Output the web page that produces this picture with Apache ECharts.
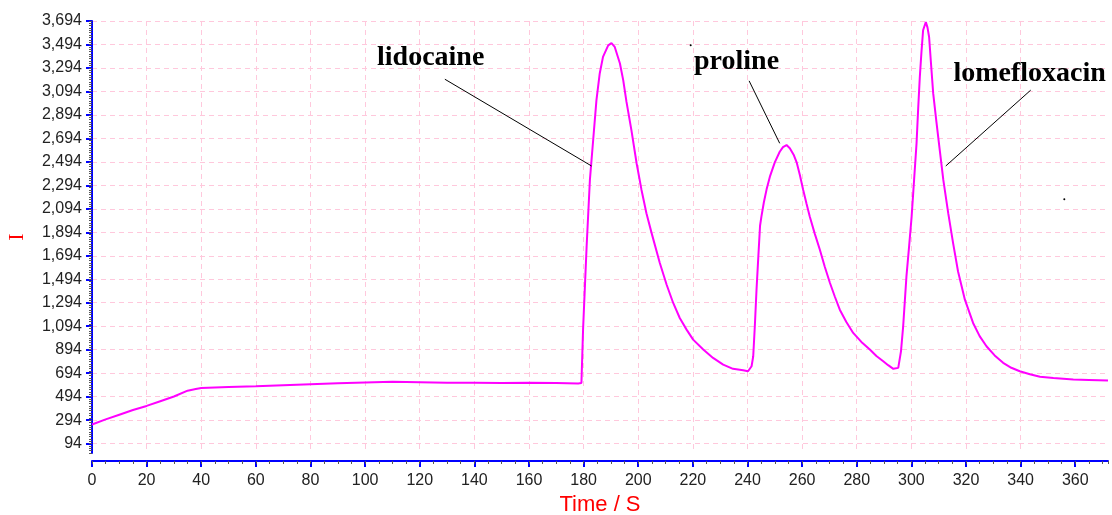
<!DOCTYPE html>
<html>
<head>
<meta charset="utf-8">
<script src="https://cdn.jsdelivr.net/npm/echarts@6/dist/echarts.min.js"></script>
<style>
html, body { margin: 0; padding: 0; background: #fff; }
#main { width: 1112px; height: 515px; }
</style>
</head>
<body>
<div id="main"></div>
<script>
// time (s) and signal
var times = [0, 5, 10, 15, 20, 25, 30, 35, 38, 40, 45, 50, 60, 70, 80, 90, 100, 110, 120, 130, 140, 150, 160, 170, 178, 179.2,
  179.8, 181.1, 182.3, 183.5, 184.7, 185.9, 187.1, 189.0, 190.2, 191.4, 193.3, 194.5, 195.7, 197.5, 199.4, 201.2, 203.0, 204.9,
  207.9, 210.4, 212.8, 215.2, 217.7, 220.1, 223.8, 227.4, 231.1, 234.7, 238.4, 240.2, 241.5,
  242.1, 242.7, 243.3, 244.0, 244.6, 245.1, 246.0, 247.0, 248.2, 250.0, 251.8, 253.0, 254.3, 255.5, 257.0, 258.0, 259.2, 260.4,
  261.6, 262.8, 264.6, 266.5, 268.3, 270.2, 272.0, 273.8, 276.2, 278.7, 281.7, 284.8, 287.2, 289.7, 291.5, 293.4, 295.2,
  296.2, 297.0, 298.2, 299.2, 300.1, 301.0, 301.9, 302.5, 303.1, 303.7, 304.3, 305.3, 305.9, 306.5, 307.2, 308.0, 309.2,
  310.4, 311.7, 313.5, 315.3, 317.1, 319.6, 322.6, 325.0, 327.5, 330.5, 333.6, 336.6, 339.7, 343.4, 347.1, 352, 359.3, 365, 372];
var signal = [257, 300, 340, 380, 415, 455, 495, 545, 560, 568, 572, 576, 583, 592, 600, 608, 614, 620, 617, 613, 612, 611, 612, 610, 606, 610,
  1065, 1773, 2340, 2680, 3020, 3247, 3388, 3487, 3505, 3473, 3332, 3190, 3005, 2765, 2482, 2255, 2057, 1887,
  1632, 1447, 1292, 1164, 1065, 980, 895, 824, 767, 731, 719, 710, 753,
  838, 1100, 1400, 1700, 1950, 2028, 2150, 2260, 2368, 2490, 2580, 2620, 2637, 2610, 2550, 2490, 2380, 2255,
  2140, 2028, 1885, 1745, 1600, 1462, 1345, 1235, 1130, 1037, 960, 895, 840, 795, 762, 731, 739,
  880, 1093, 1518, 1780, 2028, 2340, 2652, 2950, 3218, 3430, 3615, 3685, 3640, 3558, 3330, 3077, 2830,
  2595, 2340, 2057, 1800, 1560, 1320, 1122, 1010, 923, 845, 782, 740, 710, 685, 663, 652, 640, 636, 631];

var xTicks = [0, 20, 40, 60, 80, 100, 120, 140, 160, 180, 200, 220, 240, 260, 280, 300, 320, 340, 360];
var yTicks = [94, 294, 494, 694, 894, 1094, 1294, 1494, 1694, 1894, 2094, 2294, 2494, 2694, 2894, 3094, 3294, 3494, 3694];

// peak callouts (data coordinates)
var peakNames = ['lidocaine', 'proline', 'lomefloxacin'];
var labelAt = [[124.0, 3381], [236.0, 3347], [343.3, 3248]];
var pointerFrom = [[129.2, 3198], [240.6, 3184], [343.7, 3105]];
var pointerTo = [[182.9, 2459], [251.8, 2652], [312.6, 2459]];
var specks = [[219.2, 3487], [356, 2176]];

var pink = '#ffc8dc';
var blue = '#0000ff';

function thousands (v) {
  return String(v).replace(/\B(?=(\d{3})+(?!\d))/g, ',');
}

var myChart = echarts.init(document.getElementById('main'));

var marks = peakNames.map(function (n, i) {
  return { coord: labelAt[i], value: n, symbolSize: 0, label: { formatter: n } };
}).concat(specks.map(function (p) {
  return { coord: p, symbolSize: 2, itemStyle: { color: '#000' }, label: { show: false } };
}));

var option = {
  animation: false,
  grid: { left: 92, right: 4, top: 21, bottom: 62, outerBoundsMode: 'none' },
  xAxis: [
    {
      type: 'value', min: 0, max: 372, position: 'bottom', offset: 8,
      name: 'Time / S', nameLocation: 'middle', nameGap: 33,
      nameTextStyle: { color: '#ff0000', fontSize: 22, fontFamily: 'Liberation Sans' },
      axisLine: { show: true, onZero: false, lineStyle: { color: blue, width: 2 } },
      axisTick: { show: true, length: 6, customValues: xTicks, lineStyle: { color: blue, width: 2 } },
      axisLabel: { customValues: xTicks, color: '#222', fontSize: 16, fontFamily: 'Liberation Sans', margin: 12 },
      splitLine: { show: true, showMaxLine: false, lineStyle: { color: pink, type: [5, 4], width: 1 } }
    },
    {
      // minor ticks every 5 s
      type: 'value', min: 0, max: 372, interval: 5, position: 'bottom', offset: 8,
      axisLine: { show: false },
      axisTick: { show: true, length: 3, lineStyle: { color: '#555' } },
      axisLabel: { show: false },
      splitLine: { show: false }
    }
  ],
  yAxis: [
    {
      type: 'value', min: 14, max: 3694, position: 'left',
      name: 'I', nameLocation: 'middle', nameRotate: 90, nameGap: 64,
      nameTextStyle: { color: '#ff0000', fontSize: 22, fontFamily: 'Liberation Serif' },
      axisLine: { show: true, onZero: false, lineStyle: { color: blue, width: 2 } },
      axisTick: { show: true, length: 6, customValues: yTicks, lineStyle: { color: blue, width: 2 } },
      axisLabel: { customValues: yTicks, formatter: thousands, color: '#222', fontSize: 16, fontFamily: 'Liberation Sans', margin: 10 },
      splitLine: { show: true, lineStyle: { color: pink, type: [5, 4], width: 1 } }
    },
    {
      // minor ticks every 20
      type: 'value', min: 14, max: 3694, interval: 20, position: 'left',
      axisLine: { show: false, onZero: false },
      axisTick: { show: true, length: 3, lineStyle: { color: '#555' } },
      axisLabel: { show: false },
      splitLine: { show: false }
    }
  ],
  series: [
    {
      type: 'line',
      xAxisIndex: 0,
      yAxisIndex: 0,
      data: times.map(function (t, i) { return [t, signal[i]]; }),
      symbol: 'none',
      lineStyle: { color: '#ff00ff', width: 2 },
      itemStyle: { color: '#ff00ff' },
      markLine: {
        silent: true,
        symbol: ['none', 'none'],
        label: { show: false },
        lineStyle: { color: '#000', width: 1, type: 'solid' },
        data: pointerFrom.map(function (p, i) { return [{ coord: p }, { coord: pointerTo[i] }]; })
      },
      markPoint: {
        silent: true,
        symbol: 'circle',
        label: { show: true, position: 'inside', color: '#000', fontFamily: 'Liberation Serif', fontSize: 28, fontWeight: 'bold' },
        data: marks
      }
    }
  ]
};

myChart.setOption(option);
</script>
</body>
</html>
